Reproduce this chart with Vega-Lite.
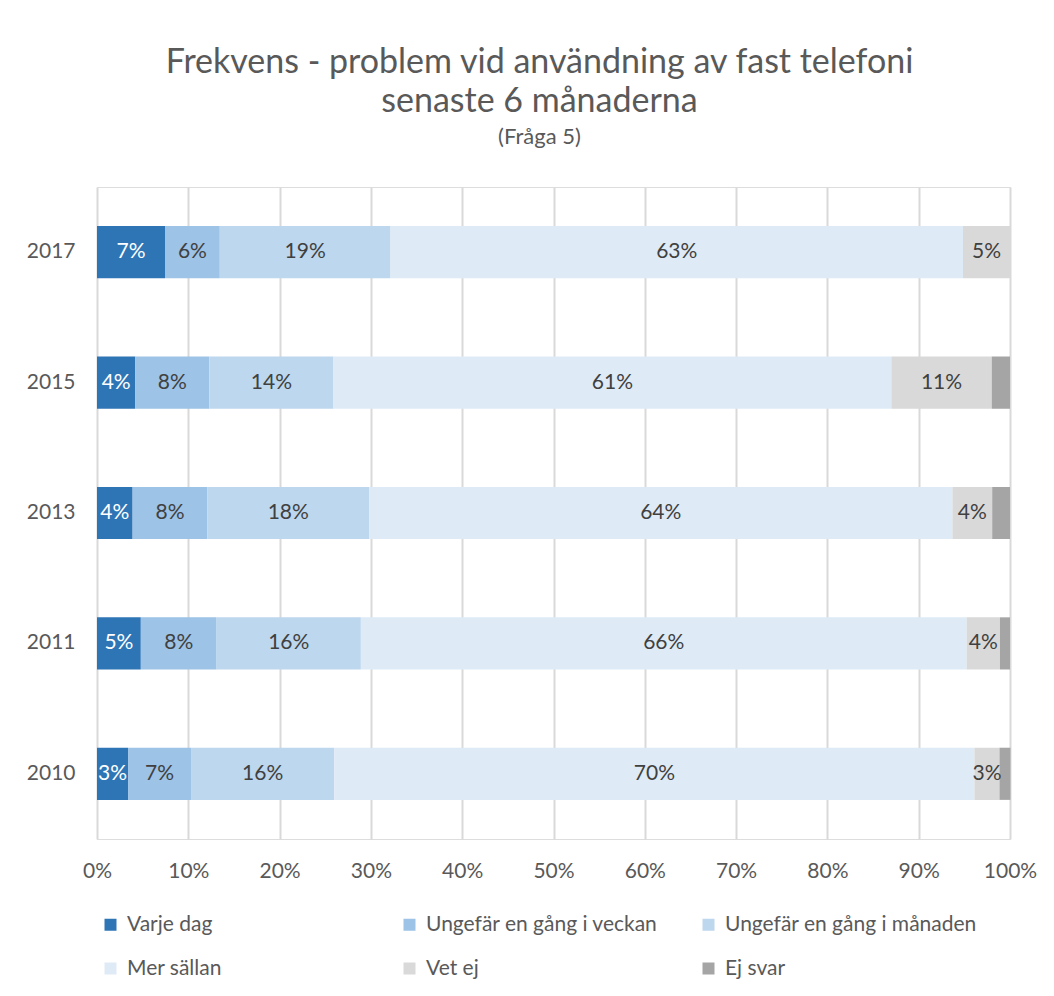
{
  "$schema": "https://vega.github.io/schema/vega-lite/v6.json",
  "width": 913,
  "height": 652,
  "autosize": {"type": "none"},
  "padding": {"left": 97, "top": 187, "right": 44, "bottom": 157},
  "background": "white",
  "title": {
    "text": ["Frekvens - problem vid användning av fast telefoni", "senaste 6 månaderna"],
    "subtitle": "(Fråga 5)",
    "anchor": "middle",
    "frame": "group",
    "dx": -14,
    "offset": 39,
    "font": "Lato",
    "fontSize": 34,
    "fontWeight": "normal",
    "color": "#595959",
    "lineHeight": 39,
    "subtitleFont": "Lato",
    "subtitleFontSize": 22,
    "subtitleColor": "#595959",
    "subtitlePadding": 8
  },
  "data": {
    "values": [
      {"year": "2017", "cat": "Varje dag", "ord": 1, "value": 0.0745},
      {"year": "2017", "cat": "Ungefär en gång i veckan", "ord": 2, "value": 0.060},
      {"year": "2017", "cat": "Ungefär en gång i månaden", "ord": 3, "value": 0.187},
      {"year": "2017", "cat": "Mer sällan", "ord": 4, "value": 0.627},
      {"year": "2017", "cat": "Vet ej", "ord": 5, "value": 0.0515},
      {"year": "2017", "cat": "Ej svar", "ord": 6, "value": 0.0},
      {"year": "2015", "cat": "Varje dag", "ord": 1, "value": 0.042},
      {"year": "2015", "cat": "Ungefär en gång i veckan", "ord": 2, "value": 0.081},
      {"year": "2015", "cat": "Ungefär en gång i månaden", "ord": 3, "value": 0.136},
      {"year": "2015", "cat": "Mer sällan", "ord": 4, "value": 0.611},
      {"year": "2015", "cat": "Vet ej", "ord": 5, "value": 0.110},
      {"year": "2015", "cat": "Ej svar", "ord": 6, "value": 0.020},
      {"year": "2013", "cat": "Varje dag", "ord": 1, "value": 0.039},
      {"year": "2013", "cat": "Ungefär en gång i veckan", "ord": 2, "value": 0.082},
      {"year": "2013", "cat": "Ungefär en gång i månaden", "ord": 3, "value": 0.177},
      {"year": "2013", "cat": "Mer sällan", "ord": 4, "value": 0.639},
      {"year": "2013", "cat": "Vet ej", "ord": 5, "value": 0.0435},
      {"year": "2013", "cat": "Ej svar", "ord": 6, "value": 0.0195},
      {"year": "2011", "cat": "Varje dag", "ord": 1, "value": 0.048},
      {"year": "2011", "cat": "Ungefär en gång i veckan", "ord": 2, "value": 0.083},
      {"year": "2011", "cat": "Ungefär en gång i månaden", "ord": 3, "value": 0.158},
      {"year": "2011", "cat": "Mer sällan", "ord": 4, "value": 0.6635},
      {"year": "2011", "cat": "Vet ej", "ord": 5, "value": 0.0365},
      {"year": "2011", "cat": "Ej svar", "ord": 6, "value": 0.011},
      {"year": "2010", "cat": "Varje dag", "ord": 1, "value": 0.034},
      {"year": "2010", "cat": "Ungefär en gång i veckan", "ord": 2, "value": 0.069},
      {"year": "2010", "cat": "Ungefär en gång i månaden", "ord": 3, "value": 0.157},
      {"year": "2010", "cat": "Mer sällan", "ord": 4, "value": 0.701},
      {"year": "2010", "cat": "Vet ej", "ord": 5, "value": 0.0275},
      {"year": "2010", "cat": "Ej svar", "ord": 6, "value": 0.012}
    ]
  },
  "transform": [
    {"stack": "value", "groupby": ["year"], "sort": [{"field": "ord", "order": "ascending"}], "as": ["v0", "v1"]}
  ],
  "encoding": {
    "y": {
      "field": "year",
      "type": "nominal",
      "sort": ["2017", "2015", "2013", "2011", "2010"],
      "scale": {"paddingInner": 0.6, "paddingOuter": 0.3},
      "axis": {
        "title": null,
        "ticks": false,
        "domain": false,
        "labelPadding": 22,
        "labelFont": "Lato",
        "labelFontSize": 21,
        "labelColor": "#595959"
      }
    }
  },
  "layer": [
    {
      "mark": {"type": "bar"},
      "encoding": {
        "x": {
          "field": "v0",
          "type": "quantitative",
          "scale": {"domain": [0, 1], "nice": false},
          "axis": {
            "title": null,
            "values": [0, 0.1, 0.2, 0.3, 0.4, 0.5, 0.6, 0.7, 0.8, 0.9, 1],
            "format": ".0%",
            "ticks": false,
            "domain": false,
            "grid": true,
            "gridColor": "#D9D9D9",
            "gridWidth": 2,
            "labelPadding": 21,
            "labelFont": "Lato",
            "labelFontSize": 21,
            "labelColor": "#595959",
            "labelFlush": false
          }
        },
        "x2": {"field": "v1"},
        "color": {
          "field": "cat",
          "type": "nominal",
          "scale": {
            "domain": ["Varje dag", "Ungefär en gång i veckan", "Ungefär en gång i månaden", "Mer sällan", "Vet ej", "Ej svar"],
            "range": ["#2E75B6", "#9DC3E6", "#BDD7EE", "#DEEBF7", "#D9D9D9", "#A5A5A5"]
          },
          "legend": {
            "title": null,
            "orient": "none",
            "legendX": 3,
            "legendY": 727,
            "direction": "horizontal",
            "columns": 3,
            "gridAlign": "all",
            "columnPadding": 20,
            "rowPadding": 22,
            "symbolType": "square",
            "symbolSize": 144,
            "symbolStrokeWidth": 0,
            "symbolOffset": 0,
            "labelFont": "Lato",
            "labelFontSize": 21,
            "labelColor": "#595959",
            "labelOffset": 6,
            "labelLimit": 400,
            "padding": 0
          }
        }
      }
    },
    {
      "transform": [
        {"filter": "datum.value >= 0.025"},
        {"calculate": "(datum.v0 + datum.v1) / 2", "as": "labelPos"}
      ],
      "mark": {"type": "text", "font": "Lato", "fontSize": 21, "baseline": "middle", "align": "center"},
      "encoding": {
        "x": {"field": "labelPos", "type": "quantitative"},
        "text": {"field": "value", "type": "quantitative", "format": ".0%"},
        "color": {
          "condition": {"test": "datum.cat === 'Varje dag'", "value": "white"},
          "value": "#404040"
        }
      }
    }
  ]
}
